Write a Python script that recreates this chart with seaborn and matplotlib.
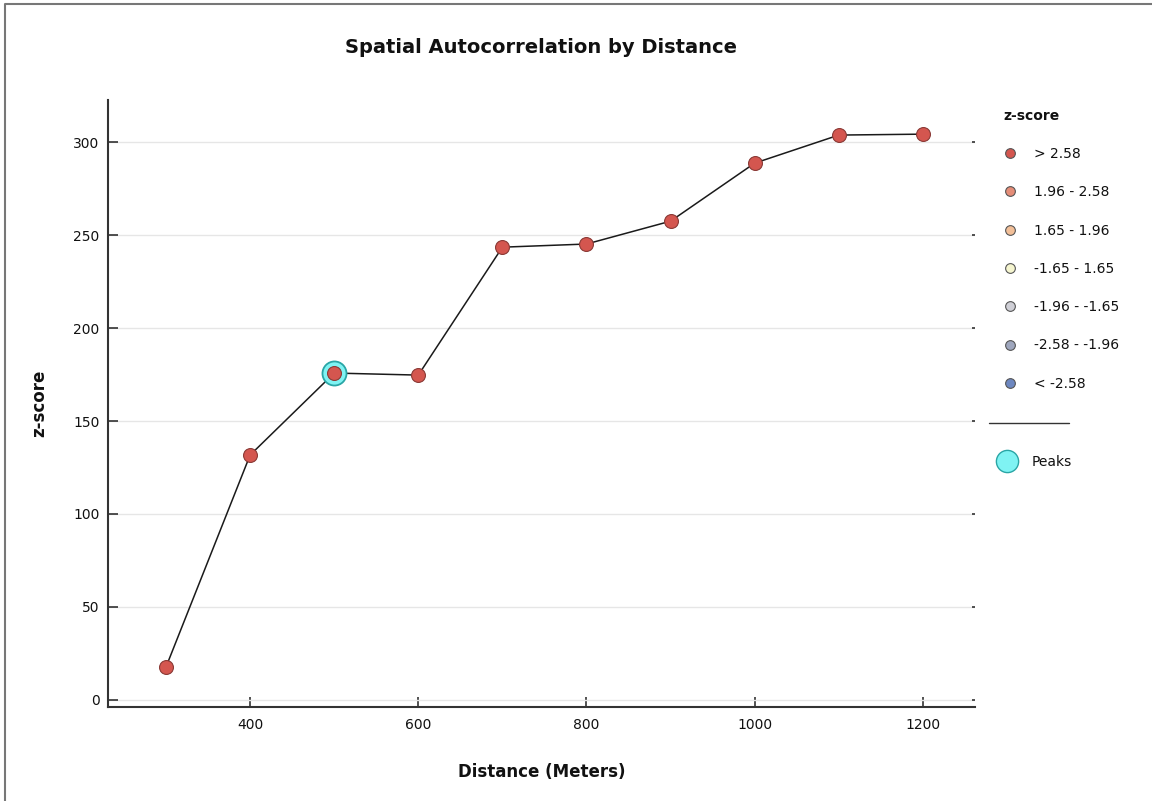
import matplotlib
matplotlib.use("Agg")
import matplotlib.pyplot as plt
from matplotlib.lines import Line2D
import seaborn as sns
import pandas as pd

# values
distance = [300, 400, 500, 600, 700, 800, 900, 1000, 1100, 1200]
zscore = [17.7, 131.7, 175.8, 174.7, 243.5, 245.2, 257.5, 288.7, 303.8, 304.3]
peak_distance = [500]
peak_zscore = [175.8]

bin_labels = ["> 2.58", "1.96 - 2.58", "1.65 - 1.96", "-1.65 - 1.65",
              "-1.96 - -1.65", "-2.58 - -1.96", "< -2.58"]
bin_colors = ["#d4564f", "#e58d78", "#f2bf98", "#f5f5cf",
              "#cfcfd6", "#9ea6bd", "#6d87c0"]

df = pd.DataFrame({"Distance": distance, "z": zscore})
peaks = pd.DataFrame({"Distance": peak_distance, "z": peak_zscore})

sns.set_theme(style="white")
plt.rcParams["font.family"] = ["DejaVu Sans"]
plt.rcParams["text.color"] = "#111111"

fig = plt.figure(figsize=(11.52, 8.01), dpi=100)
ax = fig.add_axes([0.09375, 0.1174, 0.7526, 0.7576])

sns.lineplot(data=df, x="Distance", y="z", ax=ax, color="#1a1a1a", linewidth=1.1, zorder=2)
sns.scatterplot(data=peaks, x="Distance", y="z", ax=ax, s=300, color="#7ff3f3",
                edgecolor="#2aa6a6", linewidth=1.3, zorder=3)
sns.scatterplot(data=df, x="Distance", y="z", ax=ax, s=100, color=bin_colors[0],
                edgecolor="#8a3a36", linewidth=0.8, zorder=4)

ax.set_xlim(231, 1262)
ax.set_ylim(-3.8, 322.6)
ax.set_xticks([400, 600, 800, 1000, 1200])
ax.set_yticks([0, 50, 100, 150, 200, 250, 300])
ax.yaxis.grid(True, color="#e6e6e6", linewidth=1)
ax.xaxis.grid(False)
ax.tick_params(axis="both", direction="in", length=7, width=1.2, colors="#333333",
               labelsize=10, labelcolor="#111111")
ax.tick_params(axis="y", left=True, right=True, pad=6)
ax.tick_params(axis="x", bottom=True, pad=8)
for side in ["top", "right"]:
    ax.spines[side].set_visible(False)
for side in ["left", "bottom"]:
    ax.spines[side].set_color("#333333")
    ax.spines[side].set_linewidth(1.5)
# tiny right ticks
for t in ax.yaxis.get_major_ticks():
    t.tick2line.set_markersize(2)

ax.set_xlabel("Distance (Meters)", fontsize=12, fontweight="bold", labelpad=22, color="#111111")
ax.set_ylabel("z-score", fontsize=12, fontweight="bold", labelpad=18, color="#111111")
ax.set_title("Spatial Autocorrelation by Distance", fontsize=14, fontweight="bold", pad=34,
             color="#111111")

handles = [Line2D([], [], marker="o", linestyle="", markersize=7, markerfacecolor=c,
                  markeredgecolor="#555555", markeredgewidth=0.8) for c in bin_colors]
leg = fig.legend(handles, bin_labels, title="z-score", loc="upper left",
                 bbox_to_anchor=(0.860, 0.880), frameon=False, fontsize=10,
                 labelspacing=1.75, handlelength=1.0, handletextpad=1.2,
                 title_fontproperties={"weight": "bold", "size": 10})
leg._legend_box.align = "left"

peak_handle = [Line2D([], [], marker="o", linestyle="", markersize=16,
                      markerfacecolor="#7ff3f3", markeredgecolor="#2aa6a6",
                      markeredgewidth=1.0)]
fig.legend(peak_handle, ["Peaks"], loc="upper left", bbox_to_anchor=(0.857, 0.448),
           frameon=False, fontsize=10, handlelength=1.0, handletextpad=1.3)

fig.add_artist(Line2D([989 / 1152, 1069 / 1152], [1 - 423 / 801, 1 - 423 / 801],
                      transform=fig.transFigure, color="#333333", linewidth=1))
# frame on left and top edges
fig.add_artist(Line2D([5 / 1152, 5 / 1152, 1], [0, 1 - 4 / 801, 1 - 4 / 801],
                      transform=fig.transFigure, color="#777777", linewidth=1.5))

fig.savefig("out.png", dpi=100)
